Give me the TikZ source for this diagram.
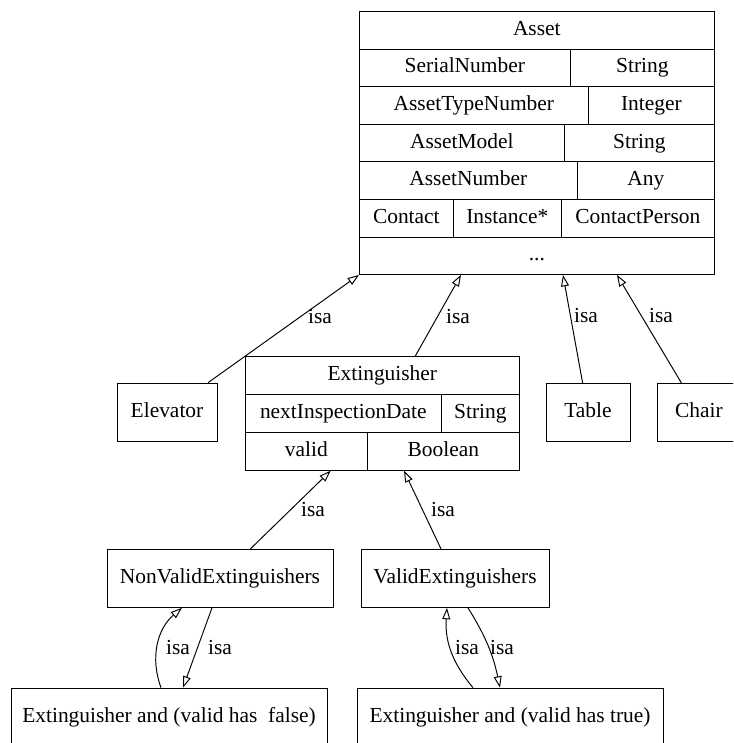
\documentclass[tikz,border=0pt]{standalone}
\usepackage{fontspec}
\setmainfont{Liberation Serif}
\usetikzlibrary{arrows.meta}

\begin{document}
\begin{tikzpicture}[x=0.02cm, y=0.02cm,
        every node/.style={font=\fontsize{12.2}{14}\selectfont},
        cell/.style={draw, anchor=north west, inner sep=0pt, minimum height=0.752cm, text height=8.4pt, text depth=2.6pt},
        xcell/.style={cell, minimum height=0.76cm},
        box/.style={draw, inner sep=0pt, minimum height=1.16cm, text height=8.4pt, text depth=2.6pt},
        isa/.style={line width=0.55pt, -{Triangle[open, length=6.5pt, width=4.5pt]}},
        lbl/.style={inner sep=0pt}]
        \useasboundingbox (0,0) rectangle (733,-743);
        \clip (0,0) rectangle (733,-743);

        \node[cell, minimum width=7.1cm] (asset) at (359,-11) {Asset};
        \node[cell, minimum width=4.22cm] (serial) at (359,-48.6) {SerialNumber};
        \node[cell, minimum width=2.88cm] (serialtype) at (570,-48.6) {String};
        \node[cell, minimum width=4.58cm] (typenr) at (359,-86.2) {AssetTypeNumber};
        \node[cell, minimum width=2.52cm] (typenrtype) at (588,-86.2) {Integer};
        \node[cell, minimum width=4.10cm] (model) at (359,-123.8) {AssetModel};
        \node[cell, minimum width=3.00cm] (modeltype) at (564,-123.8) {String};
        \node[cell, minimum width=4.36cm] (assetnr) at (359,-161.4) {AssetNumber};
        \node[cell, minimum width=2.74cm] (assetnrtype) at (577,-161.4) {Any};
        \node[cell, minimum width=1.88cm] (contact) at (359,-199) {Contact};
        \node[cell, minimum width=2.16cm] (instance) at (453,-199) {Instance*};
        \node[cell, minimum width=3.06cm] (person) at (561,-199) {ContactPerson};
        \node[cell, minimum width=7.1cm] (assetdots) at (359,-236.6) {...};

        \node[xcell, minimum width=5.48cm] (ext) at (245,-356) {Extinguisher};
        \node[xcell, minimum width=3.92cm] (extdate) at (245,-394) {nextInspectionDate};
        \node[xcell, minimum width=1.56cm] (extdatetype) at (441,-394) {String};
        \node[xcell, minimum width=2.44cm] (extvalid) at (245,-432) {valid};
        \node[xcell, minimum width=3.04cm] (extbool) at (367,-432) {Boolean};

        \node[box, minimum width=2.0cm] (elevator) at (167,-412) {Elevator};
        \node[box, minimum width=1.68cm] (table) at (588,-412.5) {Table};
        \node[box, minimum width=1.68cm] (chair) at (699,-412.5) {Chair};
        \node[box, minimum width=4.52cm] (nonvalid) at (220,-578.5) {NonValidExtinguishers};
        \node[box, minimum width=3.76cm] (valid) at (455,-578.5) {ValidExtinguishers};
        \node[box, minimum width=6.32cm] (falsebox) at (169,-717) {Extinguisher and (valid has\ \ false)};
        \node[box, minimum width=6.12cm] (truebox) at (510,-717) {Extinguisher and (valid has true)};

        \draw[isa] (elevator) -- (assetdots.south west);
        \draw[isa] ([xshift=0.66cm]ext.north) -- ([xshift=2.04cm]assetdots.south west);
        \draw[isa] (table) -- ([xshift=4.08cm]assetdots.south west);
        \draw[isa] (chair) -- ([xshift=5.16cm]assetdots.south west);
        \draw[isa] (nonvalid) -- ([xshift=-0.74cm]extvalid.south east);
        \draw[isa] (valid) -- ([xshift=0.74cm]extbool.south west);
        \draw[isa] ([xshift=-0.16cm]nonvalid.south) -- ([xshift=0.28cm]falsebox.north);
        \draw[isa] ([xshift=-0.16cm]falsebox.north) to[bend left=35] ([xshift=-0.76cm]nonvalid.south);
        \draw[isa] ([xshift=0.26cm]valid.south) to[bend left=10] ([xshift=-0.2cm]truebox.north);
        \draw[isa] ([xshift=-0.74cm]truebox.north) to[bend left=22] ([xshift=-0.16cm]valid.south);

        \node[lbl] (isa1) at (320,-317) {isa};
        \node[lbl] (isa2) at (458,-317) {isa};
        \node[lbl] (isa3) at (586,-316) {isa};
        \node[lbl] (isa4) at (661,-316) {isa};
        \node[lbl] (isa5) at (313,-510) {isa};
        \node[lbl] (isa6) at (443,-510) {isa};
        \node[lbl] (isa7) at (178,-648) {isa};
        \node[lbl] (isa8) at (220,-648) {isa};
        \node[lbl] (isa9) at (467,-648) {isa};
        \node[lbl] (isa10) at (502,-648) {isa};

\end{tikzpicture}
\end{document}
